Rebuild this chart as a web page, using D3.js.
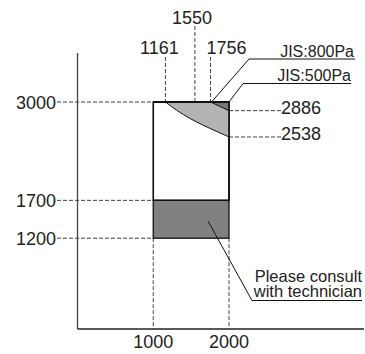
<!DOCTYPE html>
<html>
<head>
<meta charset="utf-8">
<script src="https://cdn.jsdelivr.net/npm/d3@7"></script>
<style>
  body { margin: 0; background: #fff; }
  text { font-family: "Liberation Sans", Arial, sans-serif; fill: #222; }
</style>
</head>
<body>
<script>
// values
var yTicks = [3000, 1700, 1200];
var xTicks = [1000, 2000];
var topTicks = [1161, 1550, 1756];
var rightTicks = [2886, 2538];
var boxX = [1000, 2000];
var boxWhite = [1700, 3000];
var boxGray = [1200, 1700];
var curve500 = [[1161, 3000], [1310, 2890], [1490, 2780], [1665, 2690], [1840, 2610], [2000, 2538]];
var curve800 = [[1756, 3000], [1880, 2942], [2000, 2886]];
var labels = ["JIS:800Pa", "JIS:500Pa"];
var note = ["Please consult", "with technician"];

var width = 365, height = 354;

var svg = d3.select("body").append("svg")
    .attr("width", width)
    .attr("height", height);

var x = d3.scaleLinear().domain([0, 2000]).range([77.5, 229]);
var y = d3.scaleLinear().domain([0, 3000]).range([329, 102]);

var dash = "4,2";
function dline(x1, y1, x2, y2) {
  svg.append("line")
    .attr("x1", x1).attr("y1", y1).attr("x2", x2).attr("y2", y2)
    .attr("stroke", "#444").attr("stroke-width", 1)
    .attr("stroke-dasharray", dash);
}

// axes
svg.append("line").attr("x1", x(0)).attr("x2", x(0)).attr("y1", 53).attr("y2", y(0))
  .attr("stroke", "#444").attr("stroke-width", 1.3);
svg.append("line").attr("x1", x(0)).attr("x2", 364).attr("y1", y(0)).attr("y2", y(0))
  .attr("stroke", "#222").attr("stroke-width", 1.5);

// dashed guides
yTicks.forEach(v => dline(57, y(v), x(boxX[0]), y(v)));
xTicks.forEach(v => dline(x(v), y(boxGray[0]), x(v), y(0)));
var topY = {1161: 57, 1550: 26, 1756: 57};
topTicks.forEach(v => dline(x(v), topY[v], x(v), y(3000)));
rightTicks.forEach(v => dline(x(2000), y(v), 281, y(v)));

// box
svg.append("rect")
  .attr("x", x(boxX[0])).attr("y", y(boxWhite[1]))
  .attr("width", x(boxX[1]) - x(boxX[0])).attr("height", y(boxWhite[0]) - y(boxWhite[1]))
  .attr("fill", "#fff").attr("stroke", "#111").attr("stroke-width", 1.6);
svg.append("rect")
  .attr("x", x(boxX[0])).attr("y", y(boxGray[1]))
  .attr("width", x(boxX[1]) - x(boxX[0])).attr("height", y(boxGray[0]) - y(boxGray[1]))
  .attr("fill", "#818181").attr("stroke", "#111").attr("stroke-width", 1.3);

// shaded regions under the top edge
var line = d3.line().x(d => x(d[0])).y(d => y(d[1])).curve(d3.curveMonotoneX);
function region(pts, fill) {
  var last = pts[pts.length - 1];
  svg.append("path")
    .attr("d", line(pts) + "L" + x(last[0]) + "," + y(3000) + "Z")
    .attr("fill", fill).attr("stroke", "none");
  svg.append("path").attr("d", line(pts))
    .attr("fill", "none").attr("stroke", "#111").attr("stroke-width", 1);
}
region(curve500, "#b4b4b4");
region(curve800, "#777");
// redraw top/right edges on top
svg.append("line").attr("x1", x(1000)).attr("x2", x(2000)).attr("y1", y(3000)).attr("y2", y(3000))
  .attr("stroke", "#111").attr("stroke-width", 2);
svg.append("line").attr("x1", x(2000)).attr("x2", x(2000)).attr("y1", y(3000)).attr("y2", y(1700))
  .attr("stroke", "#111").attr("stroke-width", 1.6);

// tick labels
svg.selectAll(".yl").data(yTicks).enter().append("text")
  .attr("x", 56).attr("y", d => y(d) + 6.5)
  .attr("text-anchor", "end").attr("font-size", 18).text(d => d);
svg.selectAll(".xl").data(xTicks).enter().append("text")
  .attr("x", d => x(d)).attr("y", 347.5)
  .attr("text-anchor", "middle").attr("font-size", 18).text(d => d);
var topDx = {1161: -6, 1550: -3, 1756: 16};
var topBase = {1161: 53.5, 1550: 24, 1756: 53.5};
svg.selectAll(".tl").data(topTicks).enter().append("text")
  .attr("x", d => x(d) + topDx[d]).attr("y", d => topBase[d])
  .attr("text-anchor", "middle").attr("font-size", 18).text(d => d);
svg.selectAll(".rl").data(rightTicks).enter().append("text")
  .attr("x", 281).attr("y", d => y(d) + 3.5)
  .attr("font-size", 18).text(d => d);

// JIS leaders
function leader(pts) {
  svg.append("path").attr("d", d3.line()(pts))
    .attr("fill", "none").attr("stroke", "#111").attr("stroke-width", 1);
}
leader([[x(1756) + 1, y(3000)], [249, 59], [355, 59]]);
leader([[x(2000), y(3000)], [243, 83.5], [351, 83.5]]);
svg.append("text").attr("x", 354).attr("y", 56.5).attr("text-anchor", "end")
  .attr("font-size", 16).text(labels[0]);
svg.append("text").attr("x", 351).attr("y", 80.5).attr("text-anchor", "end")
  .attr("font-size", 16).text(labels[1]);

// note leader
leader([[208, 221], [252, 300.5], [362, 300.5]]);
svg.selectAll(".nt").data(note).enter().append("text")
  .attr("x", 362).attr("y", (d, i) => 281.5 + i * 15.5)
  .attr("text-anchor", "end").attr("font-size", 16.5).text(d => d);
</script>
</body>
</html>
